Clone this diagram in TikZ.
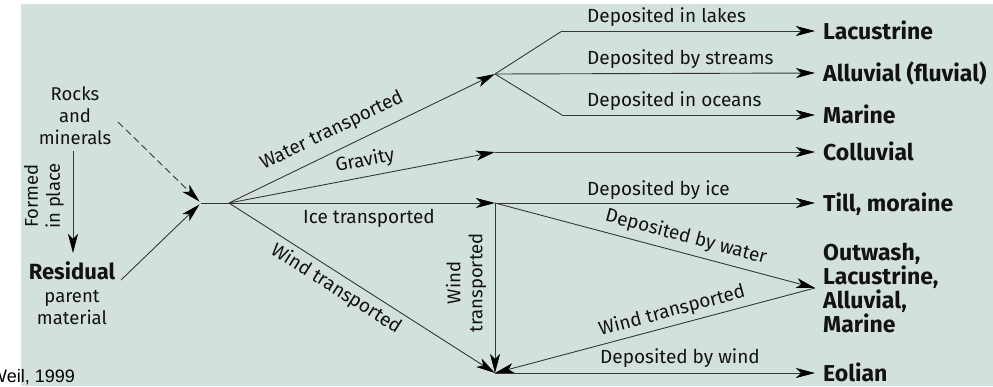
\documentclass[tikz,border=0pt]{standalone}
\usepackage{fontspec}
\setmainfont{Fira Sans}
\newfontfamily\citefont{Liberation Sans}
\usetikzlibrary{arrows.meta}
\definecolor{panel}{RGB}{211,225,219}
\definecolor{ink}{RGB}{18,18,18}
\definecolor{wire}{RGB}{55,55,55}
\begin{document}
\begin{tikzpicture}[x=1pt,y=-1pt,
  flow/.style={draw=wire, line width=0.9pt},
  arr/.style={flow, -{Stealth[length=19pt,width=10pt,inset=5pt,color=black]}},
  lbl/.style={font=\fontsize{19}{22}\selectfont, text=ink, inner sep=0pt},
  endp/.style={font=\fontsize{23}{24}\selectfont\bfseries, text=ink,
    inner xsep=8pt, inner ysep=0pt, text height=16pt, text depth=0pt, anchor=west},
  stack/.style={font=\fontsize{18.5}{22}\selectfont, text=ink, align=center, inner sep=0pt}
]
\useasboundingbox (0,0) rectangle (993,386);
\fill[panel] (21,4) rectangle (993,386);

% junction points
\coordinate (j0) at (201,203);
\coordinate (j1) at (229,203);
\coordinate (wj) at (495,74);
\coordinate (uL) at (562,31);
\coordinate (lL) at (562,115);
\coordinate (gj) at (495,152);
\coordinate (ij) at (495,203);
\coordinate (bj) at (495,373);
\coordinate (dashfrom) at (118,122);
\coordinate (residfrom) at (121,280);
\coordinate (fipfrom) at (73,151);
\coordinate (fipto) at (73,253);

% parent material
\node[stack] (rocks) at (75,116) {Rocks\\and\\minerals};
\node[stack, anchor=north] (resid) at (72,261)
  {{\fontsize{22}{24}\selectfont\bfseries Residual}\\[1pt]parent\\material};
\node[stack, rotate=90] (fip) at (44,196) {Formed\\in place};

% deposit types
\node[endp] (lac) at (815,31) {Lacustrine};
\node[endp] (allu) at (815,73) {Alluvial (fluvial)};
\node[endp] (mar) at (815,115) {Marine};
\node[endp] (coll) at (815,152) {Colluvial};
\node[endp] (till) at (815,203) {Till, moraine};
\node[endp] (eol) at (815,373) {Eolian};
\node[font=\fontsize{23}{24}\selectfont\bfseries, text=ink, align=left,
  inner xsep=8pt, inner ysep=0pt, anchor=west] (out) at (815,288)
  {Outwash,\\Lacustrine,\\Alluvial,\\Marine};

% connectors
\draw[arr, dashed, dash pattern=on 7pt off 4pt, shorten >=2pt] (dashfrom) -- (j0);
\draw[arr, shorten >=2pt] (residfrom) -- (j0);
\draw[arr] (fipfrom) -- (fipto);
\draw[flow] (j0) -- (j1);

\draw[arr] (j1) -- (wj);
\draw[flow] (wj) -- (uL);
\draw[arr] (uL) -- (lac.west);
\draw[arr] (wj) -- (allu.west);
\draw[flow] (wj) -- (lL);
\draw[arr] (lL) -- (mar.west);

\draw[arr] (j1) -- (gj);
\draw[arr] (gj) -- (coll.west);

\draw[arr] (j1) -- (ij);
\draw[arr] (ij) -- (till.west);
\draw[arr] (ij) -- (out.west);
\draw[arr] (ij) -- (bj);
\draw[arr] (out.west) -- (bj);
\draw[arr] (j1) -- (bj);
\draw[arr] (bj) -- (eol.west);

% path labels
\node[lbl, anchor=west] (l1) at (587,17) {Deposited in lakes};
\node[lbl, anchor=west] (l2) at (587,59) {Deposited by streams};
\node[lbl, anchor=west] (l3) at (587,101) {Deposited in oceans};
\node[lbl, anchor=west] (l4) at (587,190) {Deposited by ice};
\node[lbl, anchor=west] (l5) at (600,358) {Deposited by wind};
\node[lbl, rotate=25.9] (l6) at (332,131) {Water transported};
\node[lbl, rotate=10.9] (l7) at (365,161) {Gravity};
\node[lbl] (l8) at (369,218) {Ice transported};
\node[lbl, rotate=-32.6] (l9) at (336,289) {Wind transported};
\node[stack, rotate=90] (l10) at (466,283) {Wind\\transported};
\node[lbl, rotate=-14.9] (l11) at (686,237) {Deposited by water};
\node[lbl, rotate=14.9] (l12) at (672,311) {Wind transported};

\node[font=\citefont\fontsize{18}{20}\selectfont, text=black, inner sep=0pt, anchor=west] (cite) at (-10,377) {Weil, 1999};
\end{tikzpicture}
\end{document}
